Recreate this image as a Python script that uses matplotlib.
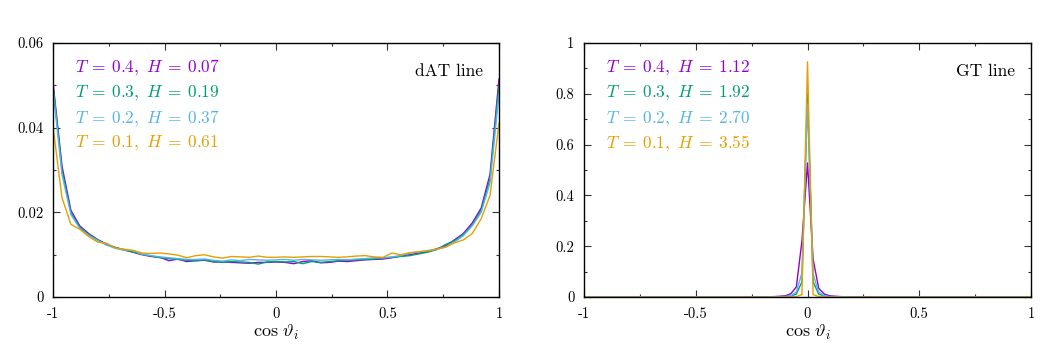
import numpy as np
import matplotlib
matplotlib.use("Agg")
import matplotlib.pyplot as plt
from matplotlib.ticker import MultipleLocator

plt.rcParams['font.family'] = ['cmr10', 'DejaVu Serif']
plt.rcParams['mathtext.fontset'] = 'cm'
plt.rcParams['axes.formatter.use_mathtext'] = True

colors = ['#9400D3', '#009E73', '#56B4E9', '#E69F00']

# dAT line: histogram of cos(theta_i), bins of width 0.04
x_dat = np.round(np.arange(-1.0, 1.0001, 0.04), 2)
dat_t04 = [0.0505, 0.0310, 0.0205, 0.0168, 0.0150, 0.0136, 0.0125, 0.0117, 0.0111, 0.0106,
           0.0100, 0.0096, 0.0094, 0.0086, 0.0090, 0.0084, 0.0086, 0.0087, 0.0083, 0.0083,
           0.0082, 0.0081, 0.0080, 0.0082, 0.0082, 0.0083, 0.0082, 0.0079, 0.0084, 0.0086,
           0.0081, 0.0082, 0.0085, 0.0084, 0.0086, 0.0088, 0.0089, 0.0090, 0.0093, 0.0097,
           0.0100, 0.0104, 0.0108, 0.0114, 0.0121, 0.0135, 0.0150, 0.0175, 0.0210, 0.0290, 0.0515]
dat_t03 = [0.0500, 0.0300, 0.0200, 0.0165, 0.0148, 0.0135, 0.0124, 0.0117, 0.0112, 0.0106,
           0.0101, 0.0097, 0.0093, 0.0091, 0.0089, 0.0087, 0.0086, 0.0088, 0.0084, 0.0082,
           0.0084, 0.0083, 0.0082, 0.0078, 0.0083, 0.0084, 0.0083, 0.0084, 0.0079, 0.0084,
           0.0082, 0.0084, 0.0086, 0.0087, 0.0088, 0.0089, 0.0090, 0.0092, 0.0094, 0.0096,
           0.0098, 0.0102, 0.0106, 0.0112, 0.0124, 0.0133, 0.0148, 0.0170, 0.0205, 0.0280, 0.0500]
dat_t02 = [0.0490, 0.0290, 0.0195, 0.0162, 0.0146, 0.0134, 0.0123, 0.0115, 0.0111, 0.0110,
           0.0101, 0.0098, 0.0095, 0.0093, 0.0091, 0.0089, 0.0089, 0.0090, 0.0087, 0.0085,
           0.0088, 0.0086, 0.0089, 0.0088, 0.0087, 0.0088, 0.0089, 0.0087, 0.0089, 0.0088,
           0.0087, 0.0088, 0.0089, 0.0088, 0.0090, 0.0091, 0.0093, 0.0093, 0.0095, 0.0098,
           0.0104, 0.0107, 0.0110, 0.0113, 0.0118, 0.0130, 0.0145, 0.0168, 0.0200, 0.0270, 0.0480]
dat_t01 = [0.0402, 0.0235, 0.0172, 0.0160, 0.0143, 0.0130, 0.0127, 0.0116, 0.0113, 0.0110,
           0.0104, 0.0103, 0.0104, 0.0102, 0.0099, 0.0093, 0.0098, 0.0100, 0.0095, 0.0092,
           0.0096, 0.0095, 0.0094, 0.0097, 0.0094, 0.0094, 0.0095, 0.0094, 0.0095, 0.0096,
           0.0096, 0.0095, 0.0094, 0.0095, 0.0097, 0.0098, 0.0095, 0.0094, 0.0104, 0.0100,
           0.0105, 0.0107, 0.0109, 0.0113, 0.0118, 0.0128, 0.0135, 0.0150, 0.0185, 0.0240, 0.0410]

# GT line: sharply peaked at cos(theta_i) = 0
x_gt = [-1.0, -0.5, -0.2, -0.15, -0.1, -0.075, -0.05, -0.025, 0.0,
        0.025, 0.05, 0.075, 0.1, 0.15, 0.2, 0.5, 1.0]
gt_t04 = [0.0, 0.0, 0.001, 0.002, 0.005, 0.013, 0.040, 0.220, 0.528,
          0.150, 0.035, 0.012, 0.005, 0.002, 0.001, 0.0, 0.0]
gt_t03 = [0.0, 0.0, 0.0, 0.001, 0.002, 0.004, 0.012, 0.060, 0.800,
          0.060, 0.012, 0.004, 0.002, 0.001, 0.0, 0.0, 0.0]
gt_t02 = [0.0, 0.0, 0.0, 0.001, 0.002, 0.005, 0.020, 0.095, 0.760,
          0.090, 0.020, 0.005, 0.002, 0.001, 0.0, 0.0, 0.0]
gt_t01 = [0.0, 0.0, 0.0, 0.0, 0.0, 0.001, 0.002, 0.010, 0.926,
          0.010, 0.002, 0.001, 0.0, 0.0, 0.0, 0.0, 0.0]

dat_labels = [r'$T \:=\: 0.4,\ H \:=\: 0.07$', r'$T \:=\: 0.3,\ H \:=\: 0.19$',
              r'$T \:=\: 0.2,\ H \:=\: 0.37$', r'$T \:=\: 0.1,\ H \:=\: 0.61$']
gt_labels = [r'$T \:=\: 0.4,\ H \:=\: 1.12$', r'$T \:=\: 0.3,\ H \:=\: 1.92$',
             r'$T \:=\: 0.2,\ H \:=\: 2.70$', r'$T \:=\: 0.1,\ H \:=\: 3.55$']

x_ticks = [-1, -0.5, 0, 0.5, 1]
x_ticklabels = ['-1', '-0.5', '0', '0.5', '1']
dat_yticks = [0, 0.02, 0.04, 0.06]
dat_yticklabels = ['0', '0.02', '0.04', '0.06']
gt_yticks = [0, 0.2, 0.4, 0.6, 0.8, 1.0]
gt_yticklabels = ['0', '0.2', '0.4', '0.6', '0.8', '1']


def style_axes(ax, yticks, yticklabels, yminor, title):
    ax.set_xlim(-1, 1)
    ax.set_ylim(yticks[0], yticks[-1])
    ax.set_xticks(x_ticks)
    ax.set_xticklabels(x_ticklabels)
    ax.set_yticks(yticks)
    ax.set_yticklabels(yticklabels)
    ax.xaxis.set_minor_locator(MultipleLocator(0.25))
    ax.yaxis.set_minor_locator(MultipleLocator(yminor))
    ax.tick_params(which='both', direction='in', top=True, right=True,
                   labelsize=10.5, width=0.8, color='#333333')
    ax.tick_params(which='major', length=5, pad=7)
    ax.tick_params(which='minor', length=2.5)
    for s in ax.spines.values():
        s.set_linewidth(1.0)
    ax.set_xlabel(r'$\cos\,\vartheta_i$', fontsize=13, labelpad=2)
    ax.text(0.965, 0.89, title, transform=ax.transAxes, ha='right', va='center',
            fontsize=12.5)


fig = plt.figure(figsize=(10.63, 3.55), dpi=100)
ax1 = fig.add_axes([0.0499, 0.163, 0.4195, 0.716])
ax2 = fig.add_axes([0.5494, 0.163, 0.4205, 0.716])

for ys, c in zip([dat_t04, dat_t03, dat_t02, dat_t01], colors):
    ax1.plot(x_dat, ys, color=c, lw=1.0)
for ys, c in zip([gt_t04, gt_t03, gt_t02, gt_t01], colors):
    ax2.plot(x_gt, ys, color=c, lw=1.0)

style_axes(ax1, dat_yticks, dat_yticklabels, 0.01, 'dAT line')
style_axes(ax2, gt_yticks, gt_yticklabels, 0.1, 'GT line')

for ax, labels in [(ax1, dat_labels), (ax2, gt_labels)]:
    for i, (lab, c) in enumerate(zip(labels, colors)):
        ax.text(0.05, 0.9 - i * 0.099, lab, transform=ax.transAxes, color=c,
                ha='left', va='center', fontsize=12.5)

fig.savefig('out.png', dpi=100)
